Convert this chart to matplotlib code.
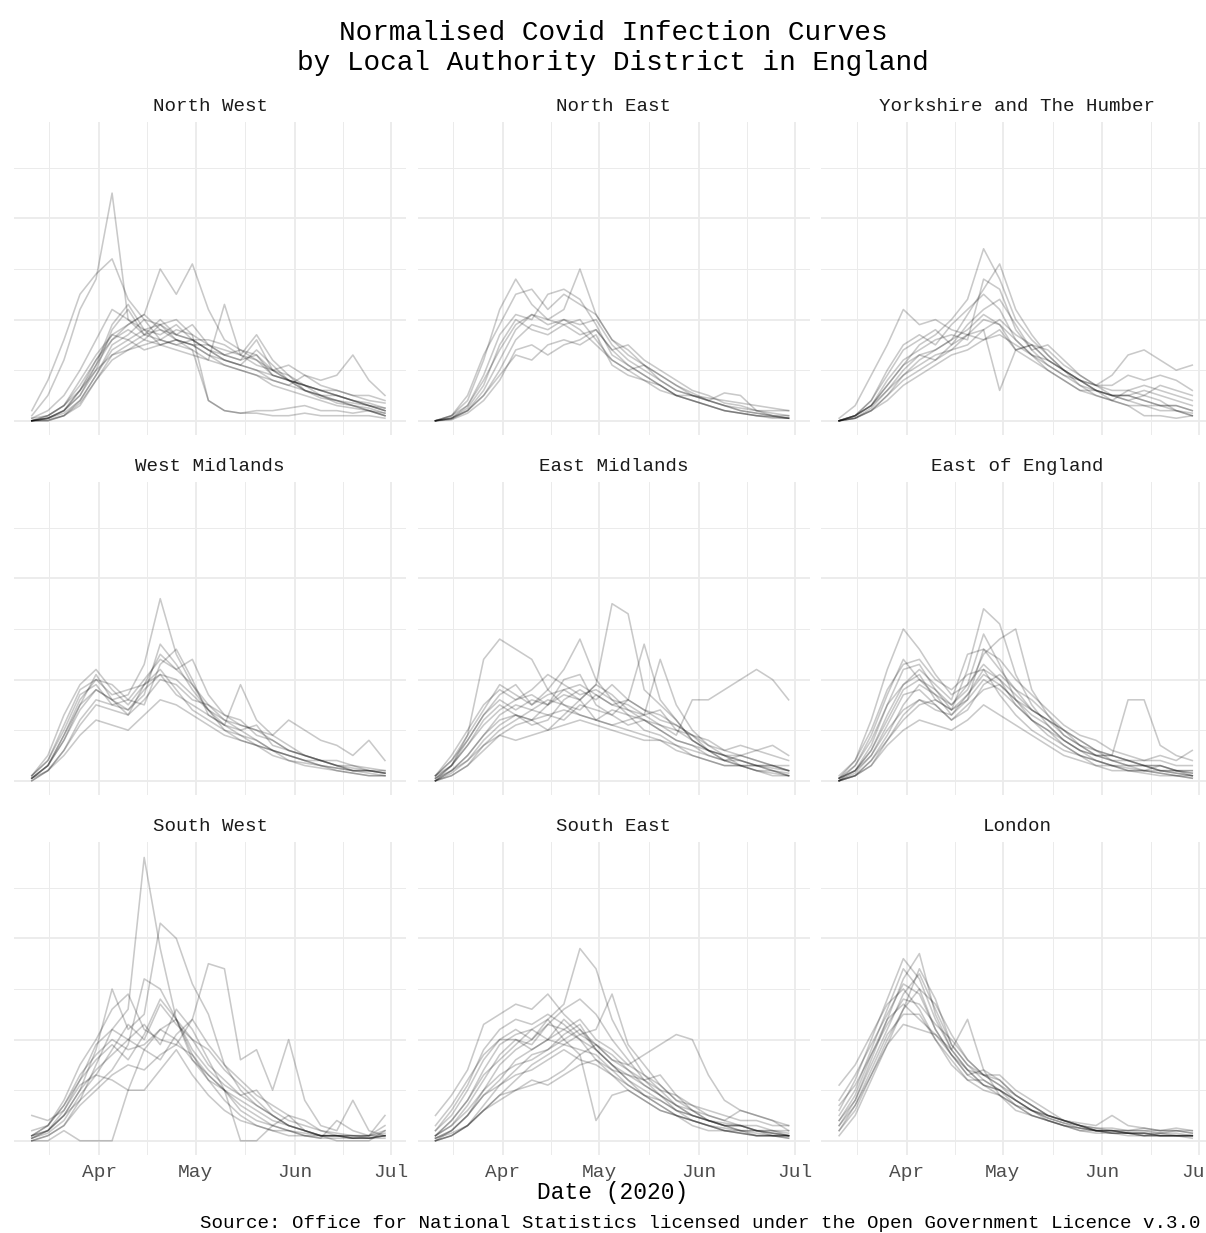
import numpy as np
import matplotlib
matplotlib.use("Agg")
import matplotlib.pyplot as plt
import matplotlib.dates as mdates
from matplotlib.transforms import blended_transform_factory

# ---------------- data (normalised daily share, % of cases) ----------------
dates = np.array(["2020-03-11", "2020-03-16", "2020-03-21", "2020-03-26", "2020-03-31",
                  "2020-04-05", "2020-04-10", "2020-04-15", "2020-04-20", "2020-04-25",
                  "2020-04-30", "2020-05-05", "2020-05-10", "2020-05-15", "2020-05-20",
                  "2020-05-25", "2020-05-30", "2020-06-04", "2020-06-09", "2020-06-14",
                  "2020-06-19", "2020-06-24", "2020-06-29"], dtype="datetime64[D]")

north_west = [
    [0.1, 0.5, 1.2, 2.2, 2.8, 4.5, 2.0, 1.8, 1.5, 1.6, 1.4, 0.4, 0.2, 0.15, 0.2, 0.2, 0.25, 0.3, 0.2, 0.2, 0.15, 0.2, 0.1],
    [0.2, 0.8, 1.6, 2.5, 2.9, 3.2, 2.4, 2.0, 1.9, 1.7, 1.6, 1.4, 1.2, 1.1, 1.0, 0.9, 0.8, 0.7, 0.6, 0.6, 0.5, 0.4, 0.35],
    [0.0, 0.1, 0.3, 0.7, 1.2, 1.7, 1.9, 2.1, 3.0, 2.5, 3.1, 2.2, 1.6, 1.4, 1.3, 1.0, 0.8, 0.7, 0.6, 0.5, 0.4, 0.3, 0.25],
    [0.0, 0.05, 0.2, 0.5, 1.0, 1.8, 2.2, 1.7, 2.0, 1.7, 1.6, 1.4, 1.3, 1.2, 1.3, 0.9, 0.8, 0.6, 0.5, 0.4, 0.3, 0.25, 0.15],
    [0.0, 0.05, 0.15, 0.4, 0.9, 1.5, 1.7, 2.0, 1.6, 1.8, 1.7, 1.5, 1.3, 1.2, 1.6, 1.0, 0.9, 0.6, 0.5, 0.4, 0.35, 0.3, 0.2],
    [0.0, 0.0, 0.1, 0.3, 0.8, 1.2, 1.4, 1.6, 1.5, 1.6, 1.5, 1.3, 1.2, 1.1, 1.0, 0.8, 0.7, 0.6, 0.5, 0.35, 0.3, 0.2, 0.1],
    [0.05, 0.1, 0.3, 0.6, 1.0, 1.3, 1.4, 1.5, 1.6, 1.5, 1.4, 1.2, 2.3, 1.3, 1.2, 1.0, 1.1, 0.9, 0.8, 0.9, 1.3, 0.8, 0.5],
    [0.0, 0.05, 0.2, 0.6, 1.2, 1.6, 1.9, 2.1, 1.8, 1.7, 1.9, 1.5, 1.4, 1.3, 1.7, 1.2, 0.9, 0.7, 0.6, 0.5, 0.4, 0.3, 0.2],
    [0.0, 0.1, 0.3, 0.8, 1.3, 1.7, 1.6, 1.8, 1.9, 2.0, 1.7, 0.4, 0.2, 0.15, 0.15, 0.1, 0.1, 0.15, 0.1, 0.1, 0.1, 0.1, 0.05],
    [0.0, 0.0, 0.1, 0.4, 0.9, 1.4, 1.6, 1.4, 1.5, 1.4, 1.3, 1.2, 1.1, 1.0, 0.9, 0.7, 0.6, 0.5, 0.4, 0.3, 0.25, 0.2, 0.1],
    [0.0, 0.05, 0.2, 0.5, 1.1, 1.9, 2.3, 1.8, 1.7, 1.9, 1.6, 1.6, 1.5, 1.3, 1.1, 1.0, 0.8, 0.7, 0.5, 0.5, 0.4, 0.3, 0.2],
    [0.0, 0.05, 0.2, 0.6, 1.1, 1.6, 1.8, 1.6, 1.9, 1.6, 1.5, 1.5, 1.3, 1.4, 1.2, 0.9, 0.8, 0.7, 0.6, 0.5, 0.4, 0.35, 0.25],
    [0.0, 0.02, 0.1, 0.35, 0.8, 1.3, 1.5, 1.7, 1.6, 1.5, 1.6, 1.4, 1.2, 1.1, 1.4, 1.1, 0.8, 0.6, 0.45, 0.4, 0.3, 0.2, 0.15],
    [0.05, 0.2, 0.5, 1.0, 1.6, 2.2, 2.0, 1.7, 1.8, 1.6, 1.5, 1.3, 1.1, 1.0, 0.9, 0.8, 0.7, 0.9, 0.7, 0.6, 0.5, 0.5, 0.4],
]

north_east = [
    [0.0, 0.1, 0.4, 1.2, 2.2, 2.8, 2.3, 2.0, 1.9, 2.0, 1.6, 1.2, 1.0, 0.8, 0.6, 0.5, 0.4, 0.3, 0.2, 0.15, 0.1, 0.08, 0.05],
    [0.0, 0.05, 0.3, 0.9, 1.7, 2.1, 2.0, 2.5, 2.6, 2.4, 1.9, 1.3, 1.1, 0.9, 0.7, 0.5, 0.4, 0.3, 0.2, 0.15, 0.1, 0.08, 0.05],
    [0.0, 0.1, 0.3, 0.8, 1.4, 1.9, 2.1, 2.0, 2.2, 3.0, 2.1, 1.6, 1.4, 1.1, 0.9, 0.7, 0.5, 0.4, 0.55, 0.5, 0.2, 0.15, 0.1],
    [0.0, 0.05, 0.2, 0.6, 1.2, 1.8, 2.1, 1.9, 2.0, 1.9, 2.0, 1.5, 1.2, 1.0, 0.8, 0.6, 0.5, 0.4, 0.3, 0.25, 0.2, 0.2, 0.2],
    [0.0, 0.05, 0.2, 0.5, 0.9, 1.3, 1.2, 1.5, 1.6, 1.5, 1.7, 1.1, 0.9, 0.8, 0.7, 0.5, 0.4, 0.3, 0.2, 0.15, 0.1, 0.05, 0.05],
    [0.0, 0.02, 0.15, 0.4, 0.8, 1.4, 1.5, 1.3, 1.5, 1.6, 1.8, 1.4, 1.5, 1.2, 1.0, 0.8, 0.6, 0.5, 0.35, 0.3, 0.2, 0.1, 0.05],
    [0.0, 0.1, 0.5, 1.3, 1.9, 2.5, 2.6, 2.2, 2.5, 2.3, 2.1, 1.6, 1.3, 1.1, 0.8, 0.6, 0.5, 0.4, 0.3, 0.2, 0.15, 0.1, 0.1],
    [0.0, 0.03, 0.2, 0.5, 1.0, 1.6, 1.9, 1.8, 2.0, 1.8, 1.5, 1.2, 1.0, 1.1, 0.9, 0.7, 0.55, 0.4, 0.3, 0.2, 0.15, 0.1, 0.05],
    [0.0, 0.05, 0.25, 0.7, 1.5, 2.0, 1.8, 1.7, 1.9, 1.7, 1.8, 1.4, 1.1, 0.9, 0.7, 0.5, 0.5, 0.45, 0.4, 0.35, 0.3, 0.25, 0.2],
]

yorkshire = [
    [0.05, 0.3, 0.9, 1.5, 2.2, 1.9, 2.0, 1.8, 1.7, 2.0, 1.9, 1.4, 1.5, 1.2, 1.0, 0.8, 0.7, 0.9, 1.3, 1.4, 1.2, 1.0, 1.1],
    [0.0, 0.1, 0.3, 0.7, 1.1, 1.5, 1.7, 2.0, 2.4, 3.4, 2.8, 2.0, 1.6, 1.3, 1.0, 0.8, 0.6, 0.5, 0.4, 0.3, 0.3, 0.2, 0.15],
    [0.0, 0.05, 0.2, 0.5, 0.9, 1.2, 1.4, 1.6, 2.1, 2.6, 3.1, 2.2, 1.7, 1.3, 1.0, 0.7, 0.6, 0.5, 0.5, 0.6, 0.5, 0.4, 0.3],
    [0.0, 0.1, 0.3, 0.6, 0.9, 1.1, 1.3, 1.4, 1.7, 1.8, 0.6, 1.4, 1.5, 1.4, 1.1, 0.9, 0.7, 0.5, 0.5, 0.4, 0.3, 0.3, 0.2],
    [0.0, 0.05, 0.2, 0.5, 0.8, 1.0, 1.2, 1.4, 1.5, 1.8, 2.0, 1.7, 1.5, 1.2, 1.0, 0.8, 0.7, 0.6, 0.6, 0.5, 0.7, 0.6, 0.5],
    [0.0, 0.1, 0.4, 0.9, 1.4, 1.6, 1.8, 1.5, 1.7, 1.6, 1.7, 1.5, 1.3, 1.0, 0.8, 0.6, 0.6, 0.5, 0.4, 0.5, 0.4, 0.2, 0.1],
    [0.0, 0.05, 0.25, 0.6, 1.0, 1.3, 1.2, 1.5, 1.9, 2.2, 2.4, 1.9, 1.4, 1.1, 0.9, 0.8, 0.6, 0.4, 0.3, 0.1, 0.1, 0.05, 0.1],
    [0.0, 0.1, 0.3, 0.8, 1.2, 1.4, 1.6, 1.7, 1.6, 2.8, 2.6, 1.8, 1.4, 1.5, 1.2, 0.9, 0.7, 0.7, 0.9, 0.8, 0.9, 0.8, 0.6],
    [0.0, 0.05, 0.2, 0.4, 0.7, 0.9, 1.1, 1.3, 1.4, 1.6, 1.8, 1.4, 1.2, 1.0, 0.8, 0.6, 0.5, 0.4, 0.3, 0.3, 0.2, 0.2, 0.1],
    [0.0, 0.1, 0.4, 1.0, 1.5, 1.7, 1.5, 1.9, 2.2, 2.5, 2.2, 1.6, 1.3, 1.1, 0.9, 0.7, 0.5, 0.4, 0.6, 0.7, 0.6, 0.5, 0.4],
    [0.0, 0.1, 0.3, 0.7, 1.1, 1.3, 1.4, 1.6, 1.8, 2.1, 1.9, 1.6, 1.3, 1.2, 1.0, 0.8, 0.6, 0.5, 0.5, 0.4, 0.3, 0.3, 0.2],
]

west_midlands = [
    [0.1, 0.5, 1.3, 1.9, 2.2, 1.8, 1.5, 1.9, 2.2, 1.8, 1.4, 1.2, 1.0, 0.9, 0.8, 0.6, 0.5, 0.4, 0.3, 0.25, 0.2, 0.2, 0.15],
    [0.05, 0.3, 0.9, 1.5, 1.8, 1.6, 1.7, 2.3, 3.6, 2.5, 1.9, 1.5, 1.2, 1.0, 0.8, 0.6, 0.5, 0.4, 0.3, 0.25, 0.2, 0.2, 0.15],
    [0.05, 0.3, 0.8, 1.5, 2.1, 1.6, 1.3, 1.9, 2.5, 2.2, 1.9, 1.4, 1.1, 1.9, 1.2, 0.9, 0.7, 0.5, 0.4, 0.3, 0.2, 0.15, 0.1],
    [0.05, 0.2, 0.6, 1.1, 1.5, 1.4, 1.3, 1.6, 2.0, 1.9, 1.6, 1.5, 1.3, 1.1, 1.0, 0.9, 1.2, 1.0, 0.8, 0.7, 0.5, 0.8, 0.4],
    [0.1, 0.4, 1.0, 1.7, 1.9, 1.5, 1.4, 1.7, 2.7, 2.3, 1.8, 1.4, 1.0, 0.8, 0.7, 0.6, 0.4, 0.3, 0.25, 0.2, 0.15, 0.1, 0.1],
    [0.0, 0.2, 0.5, 0.9, 1.2, 1.1, 1.0, 1.3, 1.6, 1.5, 1.3, 1.1, 0.9, 0.8, 0.7, 0.6, 0.5, 0.4, 0.4, 0.3, 0.25, 0.2, 0.15],
    [0.05, 0.3, 0.9, 1.6, 2.0, 1.9, 1.6, 1.5, 2.3, 2.6, 2.0, 1.3, 1.1, 1.0, 1.1, 0.7, 0.6, 0.5, 0.4, 0.3, 0.3, 0.25, 0.2],
    [0.1, 0.4, 1.1, 1.8, 2.0, 1.7, 1.8, 1.9, 2.1, 1.7, 1.5, 1.3, 1.1, 0.9, 0.7, 0.5, 0.4, 0.35, 0.3, 0.2, 0.15, 0.1, 0.1],
    [0.0, 0.2, 0.6, 1.2, 1.6, 1.5, 1.6, 2.0, 2.4, 2.2, 2.4, 1.7, 1.3, 1.2, 0.9, 0.8, 0.6, 0.5, 0.4, 0.4, 0.3, 0.2, 0.2],
    [0.05, 0.3, 0.8, 1.4, 1.8, 1.6, 1.4, 1.8, 2.1, 2.0, 1.7, 1.4, 1.2, 1.1, 1.0, 0.8, 0.6, 0.5, 0.4, 0.3, 0.2, 0.2, 0.15],
]

east_midlands = [
    [0.0, 0.3, 0.9, 2.4, 2.8, 2.6, 2.4, 1.8, 1.5, 1.3, 1.2, 1.1, 1.0, 0.9, 0.8, 0.6, 0.5, 0.4, 0.3, 0.3, 0.2, 0.2, 0.1],
    [0.0, 0.1, 0.3, 0.6, 0.9, 1.1, 1.2, 1.3, 1.4, 1.3, 1.2, 1.4, 1.3, 1.2, 1.1, 0.9, 1.6, 1.6, 1.8, 2.0, 2.2, 2.0, 1.6],
    [0.05, 0.2, 0.5, 0.9, 1.2, 1.3, 1.2, 1.5, 1.7, 1.6, 1.9, 3.5, 3.3, 1.8, 1.5, 1.2, 0.8, 0.6, 0.5, 0.4, 0.3, 0.3, 0.2],
    [0.1, 0.4, 0.9, 1.4, 1.9, 1.7, 1.5, 1.8, 2.2, 2.8, 2.0, 1.6, 1.5, 1.3, 1.4, 1.0, 0.8, 0.6, 0.4, 0.4, 0.3, 0.3, 0.2],
    [0.05, 0.3, 0.7, 1.2, 1.5, 1.3, 1.1, 1.2, 1.6, 1.8, 1.6, 1.9, 1.6, 2.7, 1.6, 1.2, 0.8, 0.6, 0.5, 0.5, 0.4, 0.3, 0.3],
    [0.0, 0.2, 0.5, 0.9, 1.3, 1.5, 1.4, 1.6, 1.5, 1.4, 1.7, 1.5, 1.4, 1.3, 2.4, 1.5, 1.0, 0.7, 0.6, 0.5, 0.4, 0.3, 0.2],
    [0.1, 0.5, 1.0, 1.5, 1.8, 1.6, 1.8, 2.1, 1.9, 1.7, 1.8, 1.6, 1.3, 1.0, 0.9, 0.7, 0.5, 0.4, 0.3, 0.3, 0.2, 0.1, 0.1],
    [0.0, 0.2, 0.4, 0.7, 0.9, 0.8, 0.9, 1.0, 1.1, 1.2, 1.1, 1.0, 0.9, 0.8, 0.8, 0.7, 0.6, 0.5, 0.4, 0.5, 0.6, 0.5, 0.4],
    [0.05, 0.3, 0.8, 1.3, 1.6, 1.4, 1.6, 1.5, 2.0, 2.1, 1.5, 1.3, 1.6, 1.4, 1.2, 1.1, 0.9, 0.7, 0.5, 0.3, 0.2, 0.15, 0.1],
    [0.0, 0.15, 0.4, 0.8, 1.1, 1.3, 1.2, 1.0, 1.3, 1.6, 1.2, 1.1, 1.2, 1.3, 1.1, 1.0, 0.9, 0.8, 0.6, 0.7, 0.6, 0.7, 0.5],
    [0.1, 0.4, 0.8, 1.3, 1.7, 1.9, 1.5, 1.7, 1.8, 1.6, 1.9, 1.7, 1.4, 1.2, 1.0, 0.8, 0.7, 0.5, 0.4, 0.3, 0.3, 0.2, 0.15],
    [0.0, 0.1, 0.3, 0.7, 1.0, 1.2, 1.4, 1.3, 1.2, 1.5, 1.4, 1.3, 1.1, 1.2, 1.0, 0.8, 0.7, 0.6, 0.5, 0.4, 0.3, 0.25, 0.2],
    [0.1, 0.3, 0.7, 1.1, 1.4, 1.6, 1.7, 1.5, 1.8, 1.9, 1.7, 1.5, 1.6, 1.4, 1.3, 1.1, 0.9, 0.6, 0.4, 0.3, 0.3, 0.2, 0.1],
]

east_of_england = [
    [0.05, 0.4, 1.2, 2.2, 3.0, 2.6, 2.1, 1.7, 1.9, 2.3, 2.0, 1.5, 1.2, 1.0, 0.7, 0.5, 0.4, 0.3, 0.2, 0.2, 0.15, 0.1, 0.1],
    [0.0, 0.2, 0.7, 1.5, 2.2, 2.3, 1.8, 1.4, 2.2, 3.4, 3.1, 2.1, 1.5, 1.1, 0.8, 0.6, 0.4, 0.3, 0.25, 0.2, 0.15, 0.1, 0.05],
    [0.0, 0.1, 0.4, 0.9, 1.5, 1.9, 1.7, 1.5, 1.8, 2.5, 2.8, 3.0, 1.8, 1.3, 1.0, 0.7, 0.5, 0.4, 0.3, 0.3, 0.2, 0.15, 0.1],
    [0.05, 0.2, 0.5, 1.0, 1.4, 1.6, 1.4, 1.3, 1.6, 2.0, 1.8, 1.5, 1.2, 1.0, 0.8, 0.6, 0.5, 0.5, 1.6, 1.6, 0.7, 0.5, 0.4],
    [0.0, 0.3, 0.9, 1.7, 2.4, 2.0, 1.7, 1.3, 1.7, 2.1, 1.9, 1.6, 1.4, 1.2, 0.9, 0.7, 0.6, 0.4, 0.3, 0.3, 0.2, 0.2, 0.15],
    [0.0, 0.1, 0.3, 0.7, 1.0, 1.2, 1.1, 1.0, 1.2, 1.5, 1.3, 1.1, 0.9, 0.7, 0.5, 0.4, 0.3, 0.3, 0.2, 0.2, 0.3, 0.2, 0.2],
    [0.05, 0.3, 0.8, 1.5, 1.9, 2.2, 1.9, 1.6, 2.5, 2.6, 2.2, 1.8, 1.6, 1.3, 0.9, 0.7, 0.5, 0.5, 0.4, 0.4, 0.5, 0.4, 0.6],
    [0.0, 0.15, 0.5, 1.1, 1.7, 1.8, 1.5, 1.2, 1.4, 1.9, 2.1, 1.8, 1.4, 1.2, 1.0, 0.8, 0.6, 0.5, 0.4, 0.3, 0.3, 0.2, 0.1],
    [0.1, 0.4, 1.0, 1.8, 2.3, 2.4, 2.0, 1.8, 2.1, 2.2, 1.7, 1.3, 1.0, 0.8, 0.6, 0.5, 0.3, 0.2, 0.2, 0.15, 0.1, 0.1, 0.05],
    [0.0, 0.1, 0.4, 0.8, 1.2, 1.5, 1.6, 1.4, 1.6, 2.6, 2.4, 2.0, 1.7, 1.4, 1.1, 0.9, 0.8, 0.6, 0.5, 0.4, 0.4, 0.3, 0.3],
    [0.05, 0.2, 0.6, 1.2, 1.8, 2.0, 1.8, 1.5, 1.9, 2.9, 2.3, 1.6, 1.3, 1.1, 0.8, 0.6, 0.5, 0.4, 0.4, 0.3, 0.2, 0.2, 0.15],
    [0.05, 0.2, 0.6, 1.3, 1.9, 2.1, 1.6, 1.4, 1.7, 2.2, 2.0, 1.7, 1.4, 1.2, 1.0, 0.8, 0.6, 0.5, 0.4, 0.3, 0.3, 0.2, 0.2],
    [0.0, 0.1, 0.3, 0.8, 1.3, 1.6, 1.5, 1.2, 1.5, 1.8, 1.9, 1.6, 1.2, 0.9, 0.7, 0.5, 0.4, 0.3, 0.3, 0.2, 0.2, 0.15, 0.1],
]

south_west = [
    [0.0, 0.1, 0.3, 0.8, 1.5, 2.2, 2.6, 5.6, 3.8, 2.4, 2.0, 1.8, 1.4, 1.1, 0.8, 0.5, 0.3, 0.2, 0.1, 0.1, 0.1, 0.05, 0.1],
    [0.1, 0.2, 0.5, 1.0, 1.8, 3.0, 2.2, 2.5, 4.3, 4.0, 3.1, 2.5, 1.5, 1.0, 0.7, 0.5, 0.3, 0.2, 0.1, 0.1, 0.05, 0.05, 0.1],
    [0.0, 0.0, 0.2, 0.0, 0.0, 0.0, 1.0, 1.8, 2.2, 2.4, 1.6, 1.2, 1.0, 0.0, 0.0, 0.3, 0.5, 0.2, 0.1, 0.0, 0.0, 0.0, 0.2],
    [0.05, 0.2, 0.5, 1.0, 1.4, 1.7, 2.0, 1.8, 1.6, 2.1, 2.4, 3.5, 3.4, 1.6, 1.8, 1.0, 2.0, 0.8, 0.3, 0.2, 0.8, 0.2, 0.1],
    [0.1, 0.2, 0.6, 1.2, 1.9, 2.2, 2.0, 2.3, 1.9, 2.6, 2.2, 1.6, 1.0, 0.7, 0.5, 0.3, 0.2, 0.15, 0.1, 0.1, 0.1, 0.1, 0.2],
    [0.5, 0.4, 0.6, 1.1, 1.3, 1.2, 1.0, 1.0, 1.4, 1.8, 1.3, 0.9, 0.6, 0.4, 0.3, 0.2, 0.2, 0.1, 0.05, 0.4, 0.2, 0.1, 0.5],
    [0.05, 0.15, 0.4, 0.9, 1.3, 1.8, 2.3, 2.0, 2.7, 2.3, 2.0, 1.5, 1.2, 0.9, 0.7, 0.5, 0.3, 0.2, 0.1, 0.1, 0.05, 0.05, 0.05],
    [0.1, 0.3, 0.8, 1.5, 2.0, 2.6, 2.9, 2.2, 2.0, 1.9, 1.7, 1.3, 1.0, 0.6, 0.4, 0.3, 0.2, 0.1, 0.1, 0.1, 0.05, 0.05, 0.1],
    [0.0, 0.1, 0.3, 0.7, 1.0, 1.3, 1.5, 1.4, 1.7, 1.9, 2.4, 1.9, 1.5, 1.2, 0.9, 0.7, 0.5, 0.4, 0.2, 0.1, 0.1, 0.1, 0.1],
    [0.1, 0.3, 0.7, 1.2, 1.6, 1.9, 1.6, 2.1, 2.8, 2.4, 1.8, 1.4, 1.1, 0.9, 1.0, 0.6, 0.4, 0.3, 0.2, 0.15, 0.1, 0.1, 0.3],
    [0.05, 0.2, 0.5, 0.8, 1.1, 1.4, 1.9, 3.2, 3.0, 2.4, 1.7, 1.2, 0.8, 0.5, 0.3, 0.2, 0.1, 0.1, 0.05, 0.05, 0.05, 0.05, 0.1],
    [0.2, 0.3, 0.7, 1.3, 1.7, 2.0, 1.8, 1.9, 2.2, 2.0, 1.6, 1.3, 1.0, 0.8, 0.6, 0.4, 0.3, 0.2, 0.1, 0.1, 0.05, 0.1, 0.15],
]

south_east = [
    [0.5, 0.9, 1.4, 2.3, 2.5, 2.7, 2.6, 2.9, 2.5, 2.2, 1.8, 1.5, 1.2, 1.0, 0.8, 0.6, 0.5, 0.4, 0.35, 0.3, 0.2, 0.15, 0.1],
    [0.05, 0.2, 0.5, 1.0, 1.5, 1.8, 2.0, 2.4, 2.7, 3.8, 3.4, 2.4, 1.8, 1.3, 1.0, 0.7, 0.5, 0.4, 0.3, 0.2, 0.15, 0.1, 0.1],
    [0.0, 0.1, 0.3, 0.6, 0.8, 1.0, 1.1, 1.2, 1.4, 1.7, 1.9, 1.6, 1.5, 1.7, 1.9, 2.1, 2.0, 1.3, 0.8, 0.6, 0.5, 0.4, 0.3],
    [0.1, 0.3, 0.6, 1.0, 1.3, 1.5, 1.6, 1.8, 2.0, 1.7, 0.4, 0.9, 1.0, 0.8, 0.6, 0.5, 0.4, 0.3, 0.2, 0.15, 0.1, 0.1, 0.05],
    [0.2, 0.5, 1.0, 1.6, 2.0, 2.2, 2.0, 2.3, 2.2, 2.0, 1.8, 1.5, 1.2, 0.9, 0.7, 0.5, 0.4, 0.3, 0.2, 0.15, 0.1, 0.1, 0.1],
    [0.0, 0.1, 0.3, 0.6, 0.9, 1.2, 1.5, 1.7, 1.9, 2.1, 2.2, 2.9, 1.9, 1.5, 1.1, 0.8, 0.6, 0.4, 0.3, 0.3, 0.2, 0.2, 0.15],
    [0.1, 0.4, 0.8, 1.3, 1.6, 1.9, 2.2, 2.0, 2.4, 2.1, 1.9, 1.6, 1.4, 1.2, 1.3, 0.9, 0.6, 0.5, 0.4, 0.6, 0.5, 0.4, 0.2],
    [0.05, 0.2, 0.5, 0.9, 1.1, 1.3, 1.4, 1.6, 1.8, 1.6, 1.5, 1.3, 1.1, 0.9, 0.8, 0.6, 0.5, 0.4, 0.3, 0.3, 0.2, 0.2, 0.1],
    [0.1, 0.3, 0.7, 1.2, 1.7, 2.0, 1.9, 2.3, 2.6, 2.8, 2.5, 2.0, 1.6, 1.2, 0.9, 0.6, 0.4, 0.3, 0.2, 0.2, 0.1, 0.1, 0.05],
    [0.05, 0.15, 0.3, 0.6, 0.9, 1.0, 1.2, 1.1, 1.3, 1.5, 1.6, 1.4, 1.3, 1.2, 1.0, 0.9, 0.7, 0.6, 0.5, 0.4, 0.4, 0.3, 0.3],
    [0.2, 0.6, 1.1, 1.8, 2.2, 2.4, 2.3, 2.5, 2.3, 2.0, 1.6, 1.3, 1.0, 0.8, 0.6, 0.5, 0.3, 0.2, 0.2, 0.15, 0.1, 0.1, 0.1],
    [0.0, 0.2, 0.5, 0.9, 1.2, 1.6, 1.8, 2.0, 2.2, 2.4, 2.0, 1.8, 1.5, 1.3, 1.1, 0.8, 0.7, 0.5, 0.4, 0.3, 0.3, 0.2, 0.2],
    [0.1, 0.4, 0.8, 1.4, 1.9, 2.1, 2.2, 2.4, 2.0, 2.2, 1.9, 1.7, 1.4, 1.1, 0.9, 0.7, 0.5, 0.4, 0.3, 0.2, 0.2, 0.1, 0.1],
    [0.0, 0.1, 0.3, 0.7, 1.1, 1.4, 1.7, 1.8, 2.1, 2.3, 1.8, 1.5, 1.3, 1.1, 0.9, 0.7, 0.6, 0.4, 0.3, 0.3, 0.2, 0.15, 0.1],
    [0.3, 0.7, 1.2, 1.7, 2.0, 2.0, 1.8, 2.0, 1.9, 1.8, 1.7, 1.4, 1.1, 0.9, 0.7, 0.5, 0.4, 0.3, 0.25, 0.2, 0.2, 0.15, 0.1],
]

london = [
    [0.5, 1.0, 1.8, 2.6, 3.4, 3.0, 2.2, 1.7, 1.3, 1.1, 1.0, 0.8, 0.6, 0.45, 0.35, 0.25, 0.2, 0.2, 0.15, 0.15, 0.15, 0.2, 0.15],
    [0.3, 0.8, 1.6, 2.4, 3.2, 3.7, 2.5, 1.8, 1.4, 1.1, 1.0, 0.7, 0.5, 0.4, 0.3, 0.2, 0.15, 0.15, 0.1, 0.1, 0.1, 0.1, 0.1],
    [1.1, 1.5, 2.1, 2.7, 3.0, 2.6, 2.0, 1.6, 1.2, 1.0, 0.9, 0.7, 0.6, 0.4, 0.3, 0.25, 0.2, 0.2, 0.2, 0.25, 0.2, 0.2, 0.2],
    [0.2, 0.6, 1.3, 2.0, 2.6, 3.4, 2.8, 1.9, 1.5, 1.3, 1.1, 0.8, 0.6, 0.5, 0.4, 0.3, 0.2, 0.15, 0.15, 0.1, 0.1, 0.1, 0.1],
    [0.4, 0.9, 1.7, 2.3, 2.8, 2.7, 2.3, 2.0, 1.6, 1.3, 1.2, 0.9, 0.7, 0.5, 0.4, 0.3, 0.25, 0.25, 0.2, 0.2, 0.15, 0.15, 0.1],
    [0.2, 0.7, 1.3, 1.9, 2.3, 2.2, 2.1, 1.8, 2.4, 1.4, 1.2, 0.9, 0.7, 0.5, 0.4, 0.3, 0.2, 0.2, 0.15, 0.15, 0.1, 0.1, 0.1],
    [0.6, 1.2, 2.0, 2.8, 3.6, 3.2, 2.4, 1.8, 1.4, 1.1, 0.9, 0.6, 0.5, 0.4, 0.3, 0.2, 0.2, 0.15, 0.15, 0.1, 0.15, 0.1, 0.1],
    [0.3, 0.7, 1.4, 2.1, 2.5, 2.5, 2.0, 1.5, 1.2, 1.2, 1.0, 0.8, 0.6, 0.5, 0.4, 0.35, 0.3, 0.5, 0.3, 0.25, 0.2, 0.25, 0.2],
    [0.1, 0.5, 1.2, 1.9, 2.6, 3.0, 2.7, 2.1, 1.6, 1.3, 1.1, 0.9, 0.7, 0.5, 0.4, 0.3, 0.2, 0.2, 0.15, 0.15, 0.1, 0.1, 0.1],
    [0.8, 1.3, 1.9, 2.5, 3.1, 2.9, 2.2, 1.7, 1.3, 1.4, 0.9, 0.7, 0.5, 0.4, 0.3, 0.25, 0.2, 0.15, 0.15, 0.1, 0.1, 0.1, 0.05],
    [0.4, 0.8, 1.5, 2.2, 2.9, 3.3, 2.6, 1.9, 1.5, 1.2, 1.0, 0.8, 0.6, 0.45, 0.35, 0.3, 0.2, 0.2, 0.15, 0.15, 0.1, 0.1, 0.1],
    [0.7, 1.1, 1.7, 2.4, 2.7, 2.4, 2.1, 1.7, 1.4, 1.3, 1.3, 1.0, 0.8, 0.6, 0.4, 0.3, 0.25, 0.2, 0.2, 0.2, 0.2, 0.2, 0.15],
]

regions = ["North West", "North East", "Yorkshire and The Humber",
           "West Midlands", "East Midlands", "East of England",
           "South West", "South East", "London"]
region_curves = [north_west, north_east, yorkshire,
                 west_midlands, east_midlands, east_of_england,
                 south_west, south_east, london]

month_ticks = np.array(["2020-04-01", "2020-05-01", "2020-06-01", "2020-07-01"], dtype="datetime64[D]")
month_labels = ["Apr", "May", "Jun", "Jul"]
minor_ticks = np.array(["2020-03-16T12", "2020-04-16", "2020-05-16T12", "2020-06-16"], dtype="datetime64[h]")

# ---------------- figure ----------------
FONT = ["Liberation Mono", "DejaVu Sans Mono"]
W, H = 1206, 1233
fig = plt.figure(figsize=(W / 100, H / 100), dpi=100)
fig.patch.set_facecolor("white")

data_start = mdates.date2num(np.datetime64("2020-03-11"))
data_end = mdates.date2num(np.datetime64("2020-06-30"))
pad = 0.05 * (data_end - data_start)
ymax = 5.63

PANEL_W, PANEL_H = 392.0, 313.3
COL_STEP, ROW_STEP = 403.65, 360.0
LEFT0, TOP0 = 14.0, 121.7

for i, (name, curves) in enumerate(zip(regions, region_curves)):
    r, c = divmod(i, 3)
    left = LEFT0 + COL_STEP * c
    top = TOP0 + ROW_STEP * r
    ax = fig.add_axes([left / W, 1 - (top + PANEL_H) / H, PANEL_W / W, PANEL_H / H])
    for s in ax.spines.values():
        s.set_visible(False)
    ax.set_facecolor("white")
    ax.set_xlim(data_start - pad, data_end + pad)
    ax.set_ylim(-0.05 * ymax, 1.05 * ymax)
    ax.set_xticks(mdates.date2num(month_ticks))
    ax.set_xticks(mdates.date2num(minor_ticks), minor=True)
    ax.set_yticks([0, 2, 4])
    ax.set_yticks([1, 3, 5], minor=True)
    ax.grid(which="major", color="#ebebeb", linewidth=1.3)
    ax.grid(which="minor", color="#ebebeb", linewidth=0.7)
    ax.set_axisbelow(True)
    ax.tick_params(which="both", length=0, labelleft=False, labelbottom=False)

    xd = mdates.date2num(dates)
    for y in curves:
        ax.plot(xd, y, color="black", alpha=0.21, linewidth=1.15, solid_joinstyle="round")

    cx = (left + PANEL_W / 2) / W
    fig.text(cx, 1 - (110.7 + ROW_STEP * r) / H, name, ha="center", va="baseline",
             fontsize=13.8, family=FONT, color="#1a1a1a")

    if r == 2:
        tr = blended_transform_factory(ax.transData, fig.transFigure)
        for d, lab in zip(mdates.date2num(month_ticks), month_labels):
            ax.text(d, 1 - 1177.0 / H, lab, transform=tr, ha="center", va="baseline",
                    fontsize=14, family=FONT, color="#4d4d4d", clip_on=False)

# titles and captions
fig.text(613 / W, 1 - 40.5 / H, "Normalised Covid Infection Curves", ha="center",
         va="baseline", fontsize=20, family=FONT, color="black")
fig.text(613 / W, 1 - 70.5 / H, "by Local Authority District in England", ha="center",
         va="baseline", fontsize=20, family=FONT, color="black")
fig.text(613 / W, 1 - 1199.0 / H, "Date (2020)", ha="center", va="baseline",
         fontsize=16.5, family=FONT, color="black")
fig.text(1200 / W, 1 - 1228.0 / H,
         "Source: Office for National Statistics licensed under the Open Government Licence v.3.0",
         ha="right", va="baseline", fontsize=13.8, family=FONT, color="black")

fig.savefig("out.png", dpi=100, facecolor="white")
